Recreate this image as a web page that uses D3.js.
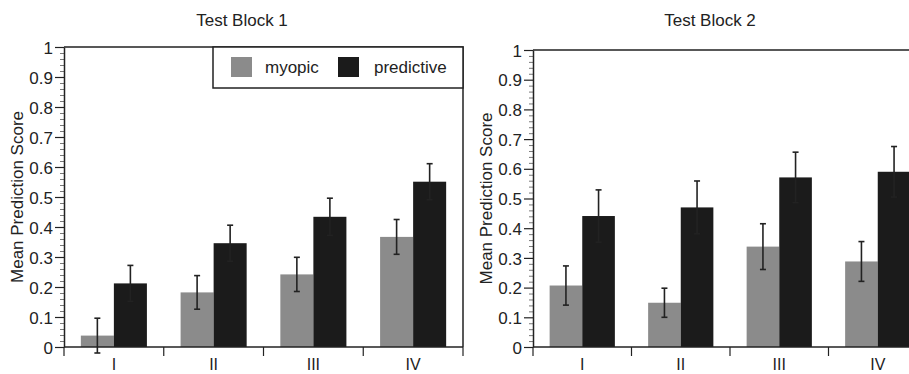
<!DOCTYPE html>
<html>
<head>
<meta charset="utf-8">
<script src="https://cdn.jsdelivr.net/npm/d3@7"></script>
<style>
  body { margin: 0; background: #fff; }
  svg { display: block; font-family: "Liberation Sans", Arial, sans-serif; }
</style>
</head>
<body>
<div id="chart"></div>
<script>
// data
const categories = ["I", "II", "III", "IV"];
const series = ["myopic", "predictive"];
const yTicks = [0, 0.1, 0.2, 0.3, 0.4, 0.5, 0.6, 0.7, 0.8, 0.9, 1];

const block1Myopic = [0.038, 0.182, 0.242, 0.367];
const block1MyopicErr = [0.058, 0.056, 0.057, 0.058];
const block1Predictive = [0.212, 0.346, 0.434, 0.551];
const block1PredictiveErr = [0.06, 0.06, 0.062, 0.06];

const block2Myopic = [0.207, 0.149, 0.338, 0.288];
const block2MyopicErr = [0.066, 0.049, 0.077, 0.067];
const block2Predictive = [0.441, 0.47, 0.571, 0.59];
const block2PredictiveErr = [0.088, 0.089, 0.085, 0.085];

const colors = { myopic: "#8b8b8b", predictive: "#1b1b1b" };
const ink = "#222";
const fontSize = "17px";

const width = 909;
const height = 374;

const svg = d3
  .select("#chart")
  .append("svg")
  .attr("width", width)
  .attr("height", height);

const panels = [
  {
    title: "Test Block 1",
    titleX: 242,
    left: 64, right: 463, top: 47, bottom: 347,
    values: { myopic: block1Myopic, predictive: block1Predictive },
    errors: { myopic: block1MyopicErr, predictive: block1PredictiveErr },
    legend: true,
  },
  {
    title: "Test Block 2",
    titleX: 710,
    left: 533, right: 927, top: 50, bottom: 347,
    values: { myopic: block2Myopic, predictive: block2Predictive },
    errors: { myopic: block2MyopicErr, predictive: block2PredictiveErr },
    legend: false,
  },
];

panels.forEach((p) => {
  const g = svg.append("g");

  const x = d3.scaleBand().domain(categories).range([p.left, p.right]).padding(0);
  const xs = d3
    .scaleBand()
    .domain(series)
    .range([0, x.bandwidth()])
    .paddingInner(0)
    .paddingOuter(0.51);
  const y = d3.scaleLinear().domain([0, 1]).range([p.bottom, p.top]);

  // rows for bars
  const rows = [];
  categories.forEach((c, i) => {
    series.forEach((s) => {
      rows.push({ cat: c, s, v: p.values[s][i], e: p.errors[s][i] });
    });
  });

  // bars
  g.selectAll("rect.bar")
    .data(rows)
    .enter()
    .append("rect")
    .attr("class", "bar")
    .attr("x", (d) => x(d.cat) + xs(d.s))
    .attr("y", (d) => y(d.v))
    .attr("width", xs.bandwidth())
    .attr("height", (d) => y(0) - y(d.v))
    .attr("fill", (d) => colors[d.s]);

  // error bars
  const eb = g
    .selectAll("g.err")
    .data(rows)
    .enter()
    .append("g")
    .attr("class", "err")
    .attr("stroke", ink)
    .attr("stroke-width", 1.6);
  const cx = (d) => x(d.cat) + xs(d.s) + xs.bandwidth() / 2;
  eb.append("line")
    .attr("x1", cx).attr("x2", cx)
    .attr("y1", (d) => y(d.v - d.e))
    .attr("y2", (d) => y(d.v + d.e));
  eb.append("line")
    .attr("x1", (d) => cx(d) - 3).attr("x2", (d) => cx(d) + 3)
    .attr("y1", (d) => y(d.v + d.e)).attr("y2", (d) => y(d.v + d.e));
  eb.append("line")
    .attr("x1", (d) => cx(d) - 3).attr("x2", (d) => cx(d) + 3)
    .attr("y1", (d) => y(d.v - d.e)).attr("y2", (d) => y(d.v - d.e));

  // frame (top + right)
  g.append("path")
    .attr("d", `M${p.left},${p.top}H${p.right}V${p.bottom}`)
    .attr("fill", "none")
    .attr("stroke", ink)
    .attr("stroke-width", 1.5);

  // minor y ticks
  const minor = d3.range(0, 1.0001, 0.02).filter((t) => Math.round(t * 100) % 10 !== 0);
  g.append("g")
    .attr("transform", `translate(${p.left},0)`)
    .call(d3.axisLeft(y).tickValues(minor).tickSize(4).tickFormat(""))
    .call((a) => a.select(".domain").remove())
    .selectAll("line")
    .attr("stroke", "#555")
    .attr("stroke-width", 0.8);

  // y axis
  const yAxis = g
    .append("g")
    .attr("transform", `translate(${p.left},0)`)
    .call(
      d3
        .axisLeft(y)
        .tickValues(yTicks)
        .tickSize(9)
        .tickSizeOuter(0)
        .tickPadding(2)
        .tickFormat((d) => String(+d.toFixed(1)))
    );
  yAxis.select(".domain").attr("stroke", ink).attr("stroke-width", 1.5);
  yAxis.selectAll(".tick line").attr("stroke", ink).attr("stroke-width", 1.2);
  yAxis
    .selectAll(".tick text")
    .attr("fill", "#222")
    .style("font-size", fontSize)
    .attr("dy", "0.36em");

  // x axis
  const xAxis = g.append("g").attr("transform", `translate(0,${p.bottom})`);
  xAxis
    .append("line")
    .attr("x1", p.left).attr("x2", p.right)
    .attr("stroke", ink)
    .attr("stroke-width", 1.5);
  const bounds = categories.map((c) => x(c)).concat([p.right]);
  xAxis
    .selectAll("line.xt")
    .data(bounds)
    .enter()
    .append("line")
    .attr("class", "xt")
    .attr("x1", (d) => d).attr("x2", (d) => d)
    .attr("y1", 0).attr("y2", 9)
    .attr("stroke", ink)
    .attr("stroke-width", 1.2);
  xAxis
    .selectAll("text")
    .data(categories)
    .enter()
    .append("text")
    .attr("x", (d) => x(d) + x.bandwidth() / 2)
    .attr("y", 23)
    .attr("text-anchor", "middle")
    .attr("fill", "#222")
    .style("font-size", "16px")
    .text((d) => d);

  // titles
  g.append("text")
    .attr("x", p.titleX)
    .attr("y", 26)
    .attr("text-anchor", "middle")
    .attr("fill", "#222")
    .style("font-size", fontSize)
    .text(p.title);

  g.append("text")
    .attr("transform", `translate(${p.left - 41},${(p.top + p.bottom) / 2}) rotate(-90)`)
    .attr("text-anchor", "middle")
    .attr("fill", "#222")
    .style("font-size", fontSize)
    .text("Mean Prediction Score");

  // legend
  if (p.legend) {
    const lg = g.append("g");
    lg.append("rect")
      .attr("x", 213).attr("y", p.top)
      .attr("width", p.right - 213).attr("height", 41)
      .attr("fill", "#fff")
      .attr("stroke", ink)
      .attr("stroke-width", 1.5);
    const items = [
      { s: "myopic", sx: 231, tx: 265 },
      { s: "predictive", sx: 338, tx: 374 },
    ];
    items.forEach((it) => {
      lg.append("rect")
        .attr("x", it.sx).attr("y", 57)
        .attr("width", 21).attr("height", 20)
        .attr("fill", colors[it.s]);
      lg.append("text")
        .attr("x", it.tx).attr("y", 73)
        .attr("fill", "#222")
        .style("font-size", fontSize)
        .text(it.s);
    });
  }
});
</script>
</body>
</html>
